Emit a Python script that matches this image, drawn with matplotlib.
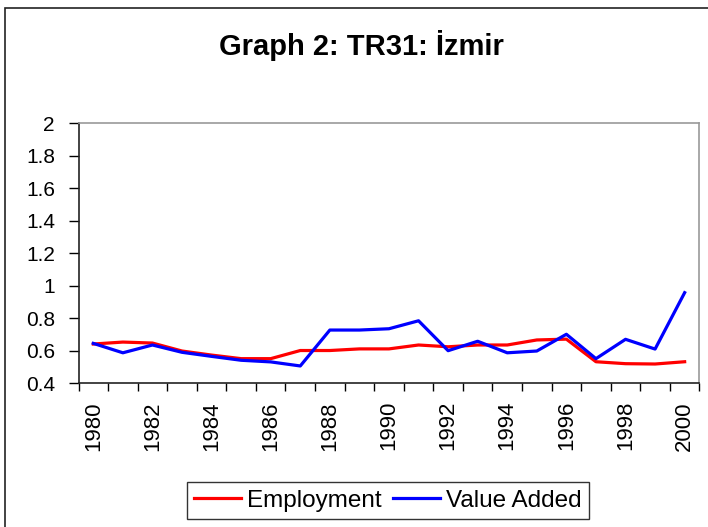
import matplotlib
matplotlib.use("Agg")
import matplotlib.pyplot as plt
import numpy as np
from matplotlib.patches import Rectangle

plt.rcParams['font.family'] = ['Liberation Sans', 'DejaVu Sans']

years = list(range(1980, 2001))
employment = [0.64, 0.652, 0.646, 0.597, 0.572, 0.55, 0.55, 0.60, 0.60, 0.61, 0.61,
              0.634, 0.623, 0.634, 0.634, 0.665, 0.67, 0.531, 0.519, 0.517, 0.531]
value_added = [0.644, 0.586, 0.634, 0.589, 0.564, 0.54, 0.53, 0.505, 0.726, 0.726, 0.734,
               0.783, 0.599, 0.657, 0.586, 0.597, 0.70, 0.55, 0.669, 0.609, 0.956]
y_ticks = [0.4, 0.6, 0.8, 1, 1.2, 1.4, 1.6, 1.8, 2]
y_labels = ['0.4', '0.6', '0.8', '1', '1.2', '1.4', '1.6', '1.8', '2']

fig = plt.figure(figsize=(7.08, 5.27), dpi=100)
ax = fig.add_axes([0.1109, 0.2732, 0.877, 0.4934])

x = np.arange(len(years))
ax.plot(x, employment, color='#ff0000', lw=2.3, label='Employment')
ax.plot(x, value_added, color='#0000ff', lw=2.3, label='Value Added')

ax.set_xlim(-0.5, len(years) - 0.5)
ax.set_ylim(0.4, 2)
ax.set_yticks(y_ticks)
ax.set_yticklabels(y_labels)

# tick marks between categories, labels every second year
ax.set_xticks(np.arange(-0.5, len(years), 1))
ax.set_xticklabels([])
ax.set_xticks(x[::2], minor=True)
ax.set_xticklabels([str(y) for y in years[::2]], minor=True, rotation=90)
ax.tick_params(axis='x', which='major', direction='out', length=6, width=1)
ax.tick_params(axis='x', which='minor', length=0, pad=13, labelsize=16)
ax.tick_params(axis='y', direction='out', length=7, width=1, pad=10, labelsize=15)

ax.spines['left'].set_color('#222222')
ax.spines['bottom'].set_color('#222222')
ax.spines['top'].set_color('#999999')
ax.spines['right'].set_color('#999999')
for s in ax.spines.values():
    s.set_linewidth(1.2)

fig.text(0.51, 0.895, 'Graph 2: TR31: İzmir', ha='center', va='baseline',
         fontsize=21, fontweight='bold')

leg = fig.legend(loc='center', bbox_to_anchor=(0.548, 0.05), ncol=2, fontsize=17.5,
                 frameon=True, fancybox=False, edgecolor='black', handlelength=1.95,
                 handletextpad=0.25, columnspacing=0.45, borderpad=0.3, borderaxespad=0)
leg.get_frame().set_linewidth(1)

# outer chart border
fig.patches.append(Rectangle((5 / 708, -0.1), 1.2, 1 - 8 / 527 + 0.1, transform=fig.transFigure,
                             fill=False, edgecolor='#222222', lw=1.2))

fig.savefig('out.png', dpi=100)
